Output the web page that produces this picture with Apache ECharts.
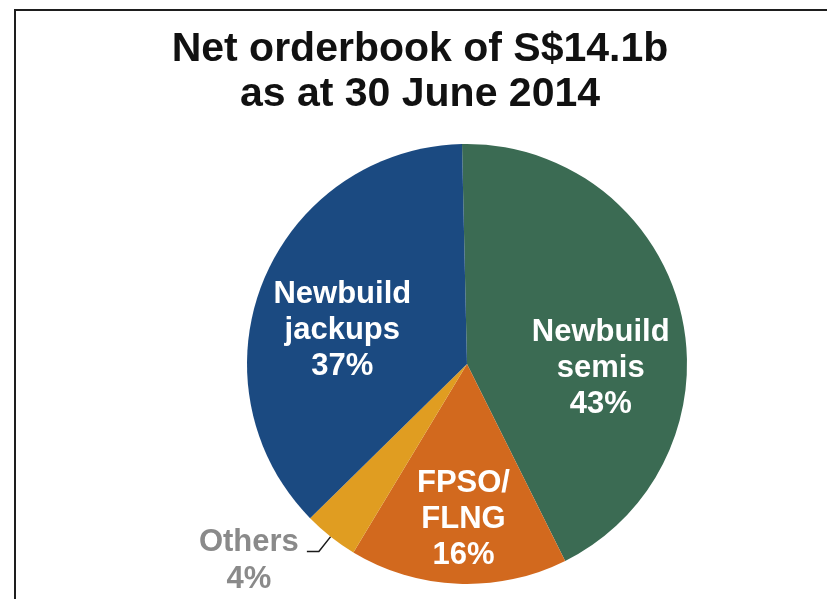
<!DOCTYPE html>
<html><head><meta charset="utf-8">
<script src="https://cdn.jsdelivr.net/npm/echarts@6/dist/echarts.min.js"></script>
<style>html,body{margin:0;padding:0;background:#fff}#c{width:827px;height:599px}</style>
</head><body><div id="c"></div>
<script>
// ---- data ----
const categories = ['Newbuild semis', 'FPSO/FLNG', 'Others', 'Newbuild jackups'];
const labelNames = ['Newbuild\nsemis', 'FPSO/\nFLNG', 'Others', 'Newbuild\njackups'];
const shares = [43, 16, 4, 37];
const titleLines = ['Net orderbook of S$14.1b', 'as at 30 June 2014'];

// ---- styling ----
const colors = ['#3b6b53', '#d2691e', '#e09d21', '#1b4a81'];
const FONT = '"Liberation Sans", Arial, sans-serif';
const outsideIdx = 2;
const insideOffsets = { 0: [24, 32], 1: [1, 43], 3: [-20, 9] };

const data = categories.map((c, i) => {
  const item = { name: c, value: shares[i], itemStyle: { color: colors[i] } };
  if (i === outsideIdx) {
    item.label = {
      position: 'outside',
      formatter: p => '{a|' + labelNames[p.dataIndex] + '}\n{a|' + p.value + '%}',
      distanceToLabelLine: 6,
      padding: [18, 0, 0, 0],
      rich: { a: { fontSize: 31, fontWeight: 'bold', color: '#8a8a8a', width: 104, align: 'center', lineHeight: 37, fontFamily: FONT } }
    };
    item.labelLine = { show: true, length: 19, length2: 12, lineStyle: { color: '#1a1a1a', width: 1.5 } };
  }
  return item;
});

const chart = echarts.init(document.getElementById('c'), null, { renderer: 'canvas' });
chart.setOption({
  animation: false,
  backgroundColor: '#ffffff',
  title: {
    text: titleLines.join('\n'),
    left: 420, top: 27, textAlign: 'center', padding: 0,
    textStyle: { fontSize: 41, fontWeight: 'bold', color: '#111', lineHeight: 45, fontFamily: FONT }
  },
  graphic: [{
    type: 'rect', silent: true, z: 100,
    shape: { x: 15, y: 10, width: 900, height: 700 },
    style: { fill: 'none', stroke: '#1e1e1e', lineWidth: 2 }
  }],
  series: [{
    type: 'pie',
    center: [467, 364],
    radius: 220,
    startAngle: 91.3,
    clockwise: true,
    avoidLabelOverlap: false,
    data: data,
    label: {
      show: true,
      position: 'inside',
      formatter: p => labelNames[p.dataIndex] + '\n' + p.value + '%',
      color: '#ffffff', fontSize: 31, fontWeight: 'bold', lineHeight: 36, fontFamily: FONT
    },
    labelLine: { show: false },
    labelLayout: p => {
      const o = insideOffsets[p.dataIndex];
      return o ? { dx: o[0], dy: o[1] } : {};
    },
    emphasis: { disabled: true }
  }]
});
</script></body></html>
